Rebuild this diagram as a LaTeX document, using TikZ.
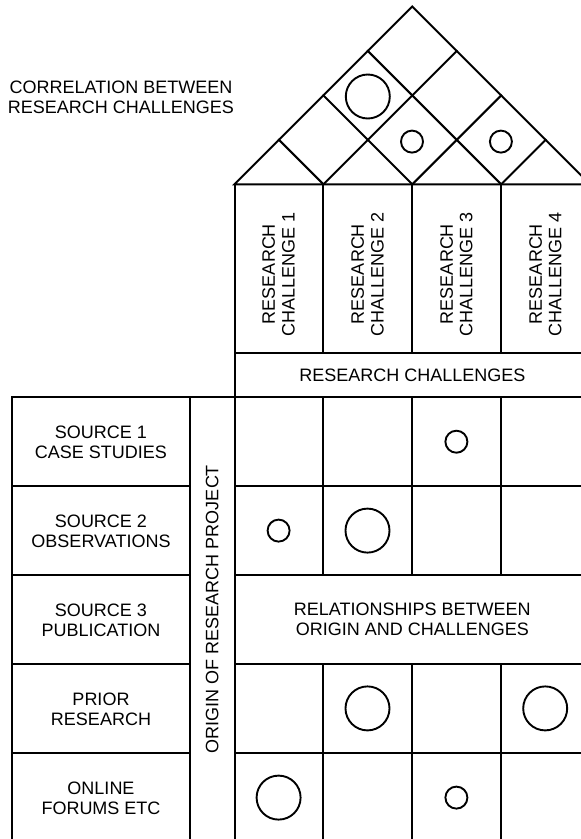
\documentclass[tikz,border=0pt]{standalone}
\usepackage{fontspec}
\setmainfont{Liberation Sans}
\begin{document}
\begin{tikzpicture}[x=1pt,y=-1pt,
  rule/.style={line width=2pt, line cap=rect},
  lbl/.style={font=\fontsize{18}{19.6}\selectfont, align=center, inner sep=0pt, text=black},
  vlbl/.style={lbl, rotate=90},
  ring/.style={circle, draw, line width=1.9pt, inner sep=0pt},
  bigring/.style={ring, minimum size=44pt},
  smallring/.style={ring, minimum size=22pt}]
\useasboundingbox (0,0) rectangle (581,839);
\clip (0,0) rectangle (581,839);

% column grid: left edge, width, base of the roof
\def\xa{234.5}\def\cw{88.9}\def\yb{184.3}

% roof: outline and the diagonal grid
\draw[rule, line join=miter] (\xa,\yb) -- (\xa+2*\cw,\yb-2*\cw) -- (\xa+4*\cw,\yb) -- cycle;
\foreach \k in {1,2,3}{
  \draw[rule] (\xa+\k*\cw,\yb) -- (\xa+\k*\cw/2,\yb-\k*\cw/2);
  \draw[rule] (\xa+\k*\cw,\yb) -- (\xa+\k*\cw+2*\cw-\k*\cw/2,\yb-2*\cw+\k*\cw/2);
}

% challenge header columns and the header bar
\draw[rule] (\xa,\yb) -- (\xa,841);
\foreach \k in {1,2,3}{ \draw[rule] (\xa+\k*\cw,\yb) -- (\xa+\k*\cw,353); }
\draw[rule] (\xa,353) -- (\xa+4*\cw,353);

% origin block and relationship matrix
\def\ya{396.7}\def\rh{89}
\draw[rule] (11.7,\ya) -- (\xa+4*\cw,\ya);
\draw[rule] (11.7,\ya) -- (11.7,845);
\draw[rule] (190,\ya) -- (190,845);
\foreach \r in {1,2,3,4}{
  \draw[rule] (11.7,\ya+\r*\rh) -- (190,\ya+\r*\rh);
  \draw[rule] (\xa,\ya+\r*\rh) -- (\xa+4*\cw,\ya+\r*\rh);
}
\foreach \k in {1,2,3}{
  \draw[rule] (\xa+\k*\cw,\ya) -- (\xa+\k*\cw,\ya+2*\rh);
  \draw[rule] (\xa+\k*\cw,\ya+3*\rh) -- (\xa+\k*\cw,845);
}

% labels
\node[lbl] (corr) at (121,97) {CORRELATION BETWEEN\\RESEARCH CHALLENGES};
\node[vlbl] (rc1) at (278.6,274) {RESEARCH\\CHALLENGE 1};
\node[vlbl] (rc2) at (367.6,274) {RESEARCH\\CHALLENGE 2};
\node[vlbl] (rc3) at (456.5,274) {RESEARCH\\CHALLENGE 3};
\node[vlbl] (rc4) at (545.4,274) {RESEARCH\\CHALLENGE 4};
\node[lbl] (rcall) at (412.3,375.5) {RESEARCH CHALLENGES};
\node[lbl] (src1) at (101,442) {SOURCE 1\\CASE STUDIES};
\node[lbl] (src2) at (101,531) {SOURCE 2\\OBSERVATIONS};
\node[lbl] (src3) at (101,620) {SOURCE 3\\PUBLICATION};
\node[lbl] (src4) at (101,709) {PRIOR\\RESEARCH};
\node[lbl] (src5) at (101,798) {ONLINE\\FORUMS ETC};
\node[vlbl] (origin) at (212.2,609) {ORIGIN OF RESEARCH PROJECT};
\node[lbl] (rel) at (412.3,619.5) {RELATIONSHIPS BETWEEN\\ORIGIN AND CHALLENGES};

% correlation marks in the roof
\node[bigring] (c13) at (367.8,96.5) {};
\node[smallring] (c23) at (412,141.6) {};
\node[smallring] (c34) at (500.9,141.6) {};

% relationship marks in the matrix
\node[smallring] (m13) at (456.4,441.7) {};
\node[smallring] (m21) at (278.6,530.6) {};
\node[bigring] (m22) at (367.5,530.6) {};
\node[bigring] (m42) at (367.5,708.4) {};
\node[bigring] (m44) at (545.2,708.4) {};
\node[bigring] (m51) at (278.6,797.6) {};
\node[smallring] (m53) at (456.4,797.6) {};
\end{tikzpicture}
\end{document}
